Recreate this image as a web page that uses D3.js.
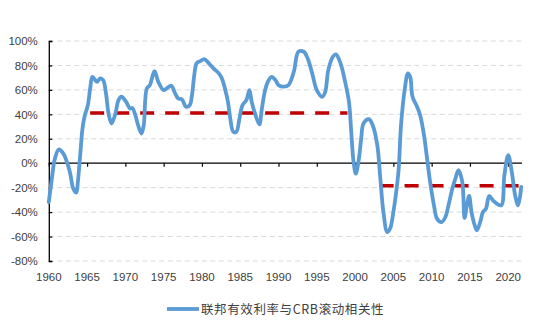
<!DOCTYPE html>
<html>
<head>
<meta charset="utf-8">
<script src="https://cdn.jsdelivr.net/npm/d3@7/dist/d3.min.js"></script>
<style>
  html, body { margin: 0; padding: 0; background: #ffffff; }
  svg { display: block; }
</style>
</head>
<body>
<svg id="chart" width="550" height="330"></svg>
<script>
// ---- data ----
const years = [1960.0,1960.4,1960.8,1961.3,1961.9,1962.5,1962.8,1963.2,1963.6,1963.8,1964.1,1964.4,1964.7,1965.1,1965.4,1965.7,1966.3,1966.7,1967.1,1967.5,1967.8,1968.2,1968.7,1969.1,1969.5,1970.1,1970.6,1970.9,1971.3,1971.6,1972.1,1972.4,1972.8,1973.2,1973.8,1974.3,1975.0,1975.4,1976.0,1976.5,1976.9,1977.4,1977.9,1978.4,1978.7,1979.0,1979.3,1979.8,1980.3,1980.9,1981.5,1982.2,1982.6,1983.0,1983.4,1983.7,1984.1,1984.5,1984.9,1985.3,1985.8,1986.2,1986.5,1987.0,1987.5,1987.8,1988.2,1988.6,1989.1,1989.6,1990.0,1990.7,1991.3,1992.0,1992.6,1993.3,1993.8,1994.4,1995.0,1995.7,1996.1,1996.5,1997.1,1997.5,1998.1,1998.7,1999.2,1999.5,1999.8,2000.1,2000.5,2000.8,2001.1,2001.8,2002.3,2002.9,2003.3,2003.7,2004.2,2004.6,2005.0,2005.4,2005.7,2006.0,2006.5,2006.9,2007.2,2007.5,2008.1,2008.5,2009.0,2009.4,2009.8,2010.3,2010.7,2011.3,2011.8,2012.2,2012.7,2013.1,2013.5,2014.0,2014.3,2014.6,2014.9,2015.2,2015.5,2015.9,2016.4,2016.7,2017.1,2017.5,2018.0,2018.5,2019.1,2019.5,2020.0,2020.5,2020.9,2021.3,2021.7];
const correlation = [-31.7,-12.6,3.8,11.2,7.9,-1.6,-8.5,-20.8,-24.0,-15.0,6.6,28.4,39.0,47.5,61.0,70.7,66.6,69.4,68.0,55.7,40.7,32.5,40.7,51.6,54.4,50.2,44.8,45.3,39.3,32.5,24.3,31.1,61.2,63.9,75.4,66.6,59.8,61.2,63.4,57.1,53.0,52.2,46.2,47.5,55.7,72.1,81.7,83.6,85.2,81.7,77.6,73.5,69.4,61.2,50.2,36.6,25.7,25.7,36.6,47.5,51.6,59.8,50.2,39.3,31.7,43.4,58.4,66.6,70.7,68.0,63.9,62.6,63.9,74.8,91.2,91.2,85.8,73.5,59.8,54.4,58.4,76.2,87.1,89.1,81.7,66.6,50.2,25.7,1.1,-8.5,3.8,20.2,32.5,36.1,31.1,14.8,-12.6,-39.9,-56.3,-53.0,-39.9,-22.0,-4.4,31.1,61.2,73.5,70.7,54.4,46.2,39.3,23.0,3.8,-15.3,-34.4,-45.3,-48.1,-44.0,-34.4,-20.8,-12.6,-5.7,-15.3,-44.8,-34.4,-26.8,-39.9,-48.1,-54.9,-46.7,-39.9,-37.1,-26.8,-30.3,-33.0,-34.4,-9.8,6.6,-8.5,-26.2,-34.4,-19.4];
// average levels (red dashed)
const avgStart = [1965.4, 2003.2];
const avgEnd   = [1999.0, 2021.6];
const avgValue = [41, -18.5];
const xTicks = [1960,1965,1970,1975,1980,1985,1990,1995,2000,2005,2010,2015,2020];
const yTicks = [-80,-60,-40,-20,0,20,40,60,80,100];
const seriesName = "联邦有效利率与CRB滚动相关性";

// ---- chart ----
const svg = d3.select("#chart");
const x = d3.scaleLinear().domain([1960, 2021.8]).range([48.8, 522]);
const y = d3.scaleLinear().domain([-80, 100]).range([261, 41]);
const font = "'Liberation Sans', Arial, sans-serif";

// gridlines
svg.append("g").selectAll("line")
  .data(yTicks.filter(d => d !== 0))
  .join("line")
  .attr("x1", x(1960)).attr("x2", 522)
  .attr("y1", d => y(d)).attr("y2", d => y(d))
  .attr("stroke", "#d9d9d9").attr("stroke-width", 1)
  .attr("stroke-dasharray", "5,3.5");

// y axis
const yAxis = d3.axisLeft(y).tickValues(yTicks).tickSize(-3.5).tickPadding(10)
  .tickFormat(d => d + "%");
const gy = svg.append("g").attr("transform", `translate(${x(1960)},0)`).call(yAxis);
gy.select(".domain").attr("stroke", "#000").attr("stroke-width", 1.3);
gy.selectAll(".tick line").attr("stroke", "#000").attr("stroke-width", 1.2);
gy.selectAll(".tick text").attr("font-family", font).attr("font-size", "11.5px")
  .attr("fill", "#404040").attr("x", -11);

// x axis on zero line
const xAxis = d3.axisBottom(x).tickValues(xTicks).tickSize(3.5).tickFormat("");
const gx = svg.append("g").attr("transform", `translate(0,${y(0)})`).call(xAxis);
gx.select(".domain").attr("stroke", "#000").attr("stroke-width", 1.3)
  .attr("d", `M${x(1960)},0H522`);
gx.selectAll(".tick line").attr("stroke", "#000").attr("stroke-width", 1.2);

// x labels at bottom
svg.append("g").selectAll("text")
  .data(xTicks)
  .join("text")
  .attr("x", d => x(d)).attr("y", 281)
  .attr("text-anchor", "middle")
  .attr("font-family", font).attr("font-size", "11.5px").attr("fill", "#404040")
  .text(d => d);

// red dashed average lines
svg.append("g").selectAll("line")
  .data(avgValue.map((v, i) => ({v, s: avgStart[i], e: avgEnd[i]})))
  .join("line")
  .attr("x1", d => x(d.s)).attr("x2", d => x(d.e))
  .attr("y1", d => y(d.v)).attr("y2", d => y(d.v))
  .attr("stroke", "#c00000").attr("stroke-width", 3.5)
  .attr("stroke-dasharray", "14,11");

// main line
const pts = years.map((t, i) => [t, correlation[i]]);
const line = d3.line().x(d => x(d[0])).y(d => y(d[1])).curve(d3.curveCatmullRom.alpha(0.5));
svg.append("path").datum(pts)
  .attr("d", line)
  .attr("fill", "none")
  .attr("stroke", "#5b9bd5")
  .attr("stroke-width", 3.8)
  .attr("stroke-linejoin", "round")
  .attr("stroke-linecap", "round");

// legend
const lg = svg.append("g");
lg.append("line").attr("x1", 167).attr("x2", 199).attr("y1", 309).attr("y2", 309)
  .attr("stroke", "#5b9bd5").attr("stroke-width", 3.8);
lg.append("text").attr("x", 201).attr("y", 313.5)
  .attr("font-family", "'Noto Sans CJK SC', sans-serif").attr("font-size", "12.5px")
  .attr("fill", "#404040").attr("letter-spacing", "0.6px")
  .text(seriesName);
</script>
</body>
</html>
